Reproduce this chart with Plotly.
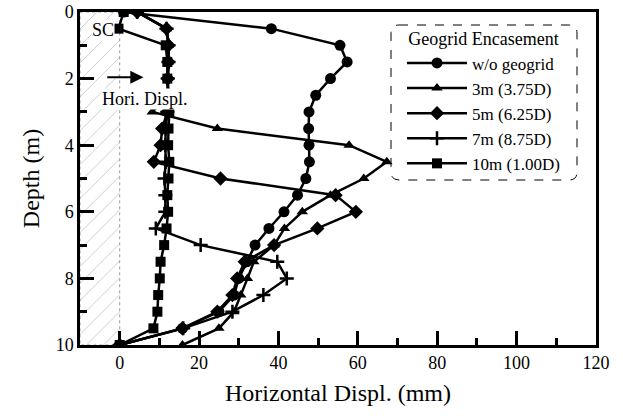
import plotly.graph_objects as go

# ---------------- data ----------------
depth = [0, 0.5, 1.0, 1.5, 2.0, 2.5, 3.0, 3.5, 4.0, 4.5, 5.0,
         5.5, 6.0, 6.5, 7.0, 7.5, 8.0, 8.5, 9.0, 9.5, 10.0]

disp_wo = [1.0, 38.2, 55.5, 57.3, 53.1, 49.4, 47.7, 47.6, 47.7, 47.8, 46.9,
           44.8, 41.4, 37.6, 34.1, 32.0, 30.0, 28.8, 25.0, 15.8, 0.0]
disp_3m = [4.4, 11.8, 12.3, 12.3, 12.1, 12.2, 8.2, 24.6, 57.8, 67.3, 61.5,
           53.1, 46.0, 41.5, 38.9, 33.8, 32.2, 30.5, 28.8, 25.0, 15.8]
disp_5m = [4.4, 11.8, 12.3, 12.3, 12.1, 12.2, 12.0, 10.7, 10.3, 8.6, 25.4,
           54.4, 59.5, 49.8, 38.9, 31.5, 29.6, 28.4, 24.6, 15.8, 0.0]
disp_7m = [4.4, 11.8, 12.3, 12.3, 12.1, 12.2, 12.0, 11.6, 11.5, 11.6, 11.3,
           11.5, 11.5, 9.1, 20.4, 39.7, 42.1, 36.2, 28.4, 16.0, 0.0]
disp_10m = [1.0, -0.3, 11.6, 12.0, 12.0, 12.3, 12.5, 12.3, 12.2, 12.5, 12.3,
            12.0, 12.2, 11.8, 11.2, 10.3, 10.1, 9.7, 9.5, 8.5, 0.0]

series_names = ["w/o geogrid", "3m (3.75D)", "5m (6.25D)", "7m (8.75D)", "10m (1.00D)"]
series_values = [disp_wo, disp_3m, disp_5m, disp_7m, disp_10m]
series_symbols = ["circle", "triangle-up", "diamond", "cross-thin", "square"]
series_sizes = [11, 10, 11, 10, 10]

sc_x = [-10, 0, 0, -10, -10]      # stone column zone
sc_y = [0, 0, 10, 10, 0]

x_ticks = [0, 20, 40, 60, 80, 100, 120]
y_ticks = [0, 2, 4, 6, 8, 10]

FONT = "Liberation Serif, Times New Roman, serif"

fig = go.Figure()

# stone column zone with speckle pattern
fig.add_trace(go.Scatter(
    x=sc_x, y=sc_y, mode="lines", fill="toself",
    fillcolor="rgba(255,255,255,0)",
    fillpattern=dict(shape="/", fgcolor="#999999", bgcolor="white",
                     size=12, solidity=0.08),
    line=dict(color="#999999", width=1, dash="dot"),
    showlegend=False, hoverinfo="skip"))

for name, vals, sym, sz in zip(series_names, series_values, series_symbols, series_sizes):
    mk = dict(symbol=sym, size=sz, color="black",
              line=dict(color="black", width=2.5 if sym == "cross-thin" else 0))
    fig.add_trace(go.Scatter(
        x=vals, y=depth, mode="lines+markers", name=name,
        line=dict(color="black", width=2.5),
        marker=mk))

fig.update_layout(
    width=623, height=416,
    margin=dict(l=80, r=27, t=12, b=71, autoexpand=False),
    paper_bgcolor="white", plot_bgcolor="white",
    font=dict(family=FONT, color="black", size=18),
    showlegend=True,
    legend=dict(
        x=(402 - 80) / 516, y=(345 - 22) / 333, xanchor="left", yanchor="top",
        bgcolor="rgba(0,0,0,0)", borderwidth=0,
        title=dict(text="Geogrid Encasement", font=dict(size=18, family=FONT),
                   side="top center"),
        font=dict(size=17, family=FONT), itemwidth=60,
        tracegroupgap=0),
    xaxis=dict(
        range=[-10, 120], tickvals=x_ticks, ticks="inside", ticklen=14,
        tickwidth=2.5, tickcolor="black", automargin=False,
        minor=dict(dtick=10, tick0=0, ticks="inside", ticklen=7, tickwidth=2.5,
                   tickcolor="black"),
        showline=True, linecolor="black", linewidth=2.5, mirror=True,
        showgrid=False, zeroline=False,
        tickfont=dict(size=18, family=FONT),
        title=dict(text="Horizontal Displ. (mm)", font=dict(size=24, family=FONT),
                   standoff=12)),
    yaxis=dict(
        range=[10, 0], tickvals=y_ticks, ticks="inside", ticklen=14,
        tickwidth=2.5, tickcolor="black", automargin=False,
        minor=dict(dtick=1, tick0=0, ticks="inside", ticklen=7, tickwidth=2.5,
                   tickcolor="black"),
        showline=True, linecolor="black", linewidth=2.5, mirror=True,
        showgrid=False, zeroline=False,
        tickfont=dict(size=18, family=FONT),
        title=dict(text="Depth (m)", font=dict(size=24, family=FONT), standoff=10)),
)

# dashed rounded legend frame (paper coordinates)
def px(xp):
    return (xp - 80) / 516


def py(yp):
    return (345 - yp) / 333


L, R, T, B = 391, 577, 25, 180
rx, ry = 8 / 516, 8 / 333
path = (f"M{px(L)+rx},{py(T)} L{px(R)-rx},{py(T)} Q{px(R)},{py(T)} {px(R)},{py(T)-ry} "
        f"L{px(R)},{py(B)+ry} Q{px(R)},{py(B)} {px(R)-rx},{py(B)} "
        f"L{px(L)+rx},{py(B)} Q{px(L)},{py(B)} {px(L)},{py(B)+ry} "
        f"L{px(L)},{py(T)-ry} Q{px(L)},{py(T)} {px(L)+rx},{py(T)} Z")
fig.add_shape(type="path", path=path, xref="paper", yref="paper",
              line=dict(color="black", width=1, dash="dash"),
              fillcolor="rgba(0,0,0,0)")

# texts and arrow
fig.add_annotation(x=-7.3, y=0.55, text="SC", showarrow=False, xanchor="left",
                   font=dict(size=18, family=FONT), bgcolor="white", borderpad=0)
fig.add_annotation(x=6.5, y=2.6, text="Hori. Displ.", showarrow=False,
                   font=dict(size=18, family=FONT), bgcolor="white", borderpad=0)
fig.add_annotation(x=6.0, y=1.96, ax=-3.5, ay=1.96, axref="x", ayref="y",
                   xref="x", yref="y", text="", showarrow=True,
                   arrowhead=2, arrowsize=1.2, arrowwidth=2.2, arrowcolor="black")

fig.write_html("out.html")
